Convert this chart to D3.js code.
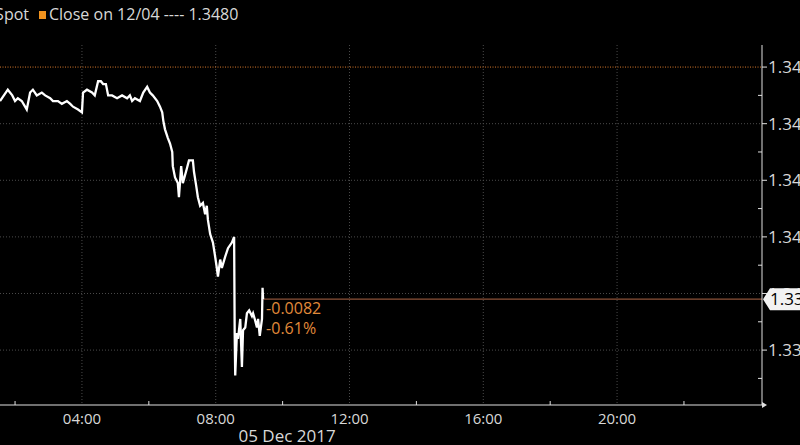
<!DOCTYPE html>
<html>
<head>
<meta charset="utf-8">
<script src="https://cdnjs.cloudflare.com/ajax/libs/d3/7.8.5/d3.min.js"></script>
<style>
  html, body { margin: 0; padding: 0; background: #000; }
  svg { display: block; background: #000; font-family: "Open Sans", sans-serif; }
  .grid line { stroke: #4a4a4a; stroke-dasharray: 1,2; }
  .tick-label { fill: #d8d8d8; font-size: 15px; }
</style>
</head>
<body>
<svg width="800" height="445"></svg>
<script>
// intraday spot prices, 05 Dec 2017
var times = ["01:33","01:47","01:55","02:00","02:05","02:12","02:18","02:21","02:27","02:32",
  "02:39","02:48","02:54","03:03","03:08","03:17","03:24","03:33","03:39","03:44",
  "03:53","04:00","04:02","04:09","04:18","04:23","04:29","04:34","04:38","04:43",
  "04:47","04:54","05:03","05:12","05:21","05:26","05:30","05:35","05:44","05:50",
  "05:57","06:02","06:07","06:15","06:20","06:24","06:26","06:29","06:34","06:38",
  "06:42","06:43","06:47","06:52","06:54","06:58","07:01","07:08","07:12","07:19",
  "07:21","07:25","07:28","07:32","07:37","07:41","07:44","07:46","07:50","07:55",
  "07:59","08:02","08:04","08:08","08:11","08:17","08:22","08:29","08:33","08:34",
  "08:35","08:38","08:40","08:44","08:47","08:49","08:53","08:56","09:00","09:05",
  "09:07","09:10","09:14","09:16","09:19","09:23","09:24","09:25"];
var prices = [1.3468,1.3472,1.3470,1.3468,1.3469,1.3468,1.3466,1.3465,1.3471,1.3472,
  1.3470,1.3471,1.3470,1.3469,1.3468,1.3468,1.3467,1.3468,1.3467,1.3466,
  1.3465,1.3464,1.3471,1.3472,1.3471,1.3470,1.3475,1.3475,1.3474,1.3474,
  1.3470,1.3470,1.3469,1.3470,1.3469,1.3470,1.3468,1.3469,1.3468,1.3471,
  1.3473,1.3471,1.3470,1.3468,1.3466,1.3464,1.3461,1.3458,1.3455,1.3453,
  1.3450,1.3445,1.3441,1.3439,1.3434,1.3445,1.3439,1.3444,1.3447,1.3447,
  1.3443,1.3438,1.3434,1.3431,1.3432,1.3428,1.3431,1.3426,1.3421,1.3418,
  1.3413,1.3409,1.3406,1.3412,1.3409,1.3413,1.3416,1.3418,1.3420,1.3386,
  1.3371,1.3386,1.3384,1.3391,1.3374,1.3387,1.3388,1.3393,1.3394,1.3392,
  1.3393,1.3391,1.3388,1.3391,1.3385,1.3391,1.3402,1.3398];

var prevClose = 1.3480,
    closeLabel = "Close on 12/04",
    seriesName = "GBP Spot";

var yTicks = [1.3380, 1.3400, 1.3420, 1.3440, 1.3460, 1.3480],
    yMinor = [1.3370, 1.3390, 1.3410, 1.3430, 1.3450, 1.3470],
    xTickLabels = ["04:00", "08:00", "12:00", "16:00", "20:00"],
    xMinorLabels = ["02:00", "06:00", "10:00", "14:00", "18:00", "22:00"],
    dateLabel = "05 Dec 2017";

var svg = d3.select("svg"),
    margin = {top: 45, left: 0},
    w = 762,
    h = 360;

var parseTime = d3.timeParse("%Y-%m-%d %H:%M");
function t(s) { return parseTime("2017-12-05 " + s); }

var data = times.map(function(s, i) { return {date: t(s), close: prices[i]}; });

var x = d3.scaleTime()
    .domain([t("01:33"), d3.timeMinute.offset(t("23:59"), 21)])
    .range([0, w]);
var y = d3.scaleLinear()
    .domain([1.33606, 1.34878])
    .range([h, 0]);

var g = svg.append("g")
    .attr("transform", "translate(" + margin.left + "," + margin.top + ")");

//Vertical grid lines
g.append("g").attr("class", "grid")
  .selectAll("line")
  .data(xTickLabels)
  .enter().append("line")
    .attr("x1", function(d) { return x(t(d)); })
    .attr("x2", function(d) { return x(t(d)); })
    .attr("y1", 0)
    .attr("y2", h);

//Horizontal grid lines
g.append("g").attr("class", "grid")
  .selectAll("line")
  .data(yTicks.filter(function(d) { return d !== prevClose; }))
  .enter().append("line")
    .attr("x1", 0)
    .attr("x2", w)
    .attr("y1", function(d) { return y(d); })
    .attr("y2", function(d) { return y(d); });

//Previous close line
g.append("line")
    .attr("x1", 0).attr("x2", w)
    .attr("y1", y(prevClose)).attr("y2", y(prevClose))
    .attr("stroke", "#d9782a")
    .attr("stroke-dasharray", "1,1.5");

var last = data[data.length - 1];

//Last price line
g.append("line")
    .attr("x1", x(last.date)).attr("x2", w)
    .attr("y1", y(last.close)).attr("y2", y(last.close))
    .attr("stroke", "#8c5238")
    .attr("stroke-width", 1.2);

//Price line
var line = d3.line()
    .x(function(d) { return x(d.date); })
    .y(function(d) { return y(d.close); });

g.append("path")
    .datum(data)
    .attr("fill", "none")
    .attr("stroke", "#fff")
    .attr("stroke-width", 2.3)
    .attr("stroke-linejoin", "miter")
    .attr("d", line);

//Axes
g.append("line")
    .attr("x1", 0).attr("x2", w)
    .attr("y1", h).attr("y2", h)
    .attr("stroke", "#e0e0e0");
g.append("path")
    .attr("d", "M" + w + "," + (h - 3) + "L" + (w + 5) + "," + h + "L" + w + "," + (h + 3) + "Z")
    .attr("fill", "#e0e0e0");
g.append("line")
    .attr("x1", w).attr("x2", w)
    .attr("y1", 0).attr("y2", h)
    .attr("stroke", "#e0e0e0");

//x ticks
g.selectAll(".xminor")
  .data(xMinorLabels)
  .enter().append("line")
    .attr("x1", function(d) { return x(t(d)); })
    .attr("x2", function(d) { return x(t(d)); })
    .attr("y1", h - 4).attr("y2", h)
    .attr("stroke", "#e0e0e0");

g.selectAll(".xlabel")
  .data(xTickLabels)
  .enter().append("text")
    .attr("class", "tick-label")
    .attr("x", function(d) { return x(t(d)); })
    .attr("y", h + 19)
    .attr("text-anchor", "middle")
    .text(function(d) { return d; });

g.append("text")
    .attr("class", "tick-label")
    .attr("x", x(t("10:08")))
    .attr("y", h + 37)
    .attr("text-anchor", "middle")
    .style("font-size", "17px")
    .text(dateLabel);

//y ticks
g.selectAll(".ymajor")
  .data(yTicks)
  .enter().append("line")
    .attr("x1", w).attr("x2", w + 5)
    .attr("y1", function(d) { return y(d); })
    .attr("y2", function(d) { return y(d); })
    .attr("stroke", "#e0e0e0");
g.selectAll(".yminor")
  .data(yMinor)
  .enter().append("line")
    .attr("x1", w - 4).attr("x2", w)
    .attr("y1", function(d) { return y(d); })
    .attr("y2", function(d) { return y(d); })
    .attr("stroke", "#e0e0e0");
g.selectAll(".ylabel")
  .data(yTicks)
  .enter().append("text")
    .attr("class", "tick-label")
    .attr("x", w + 6)
    .attr("y", function(d) { return y(d); })
    .attr("dy", "0.36em")
    .style("font-size", "17px")
    .text(function(d) { return d3.format(".4f")(d); });

//Last price tag
var ly = y(last.close);
g.append("path")
    .attr("d", "M" + (w + 1) + "," + ly + "L" + (w + 8) + "," + (ly - 11) + "L820," + (ly - 11) +
               "L820," + (ly + 11) + "L" + (w + 8) + "," + (ly + 11) + "Z")
    .attr("fill", "#f2f2f2");
g.append("text")
    .attr("x", w + 8)
    .attr("y", ly)
    .attr("dy", "0.37em")
    .attr("fill", "#000")
    .style("font-size", "17px")
    .text(d3.format(".4f")(last.close));

//Change annotation
var chg = last.close - prevClose,
    pct = chg / prevClose * 100;
g.append("text")
    .attr("x", x(last.date) + 3)
    .attr("y", ly + 15)
    .attr("fill", "#e08a3a")
    .style("font-size", "16px")
    .text(d3.format(".4f")(chg).replace("−", "-"));
g.append("text")
    .attr("x", x(last.date) + 3)
    .attr("y", ly + 35)
    .attr("fill", "#e08a3a")
    .style("font-size", "16px")
    .text(d3.format(".2f")(pct).replace("−", "-") + "%");

//Legend
svg.append("text")
    .attr("x", 29).attr("y", 20)
    .attr("text-anchor", "end")
    .attr("fill", "#d8d8d8")
    .style("font-size", "16px")
    .text(seriesName);
svg.append("rect")
    .attr("x", 39).attr("y", 11)
    .attr("width", 7).attr("height", 8)
    .attr("fill", "#f0921e");
svg.append("text")
    .attr("x", 49).attr("y", 20)
    .attr("fill", "#d8d8d8")
    .style("font-size", "16px")
    .text(closeLabel + " ---- " + d3.format(".4f")(prevClose));
</script>
</body>
</html>
